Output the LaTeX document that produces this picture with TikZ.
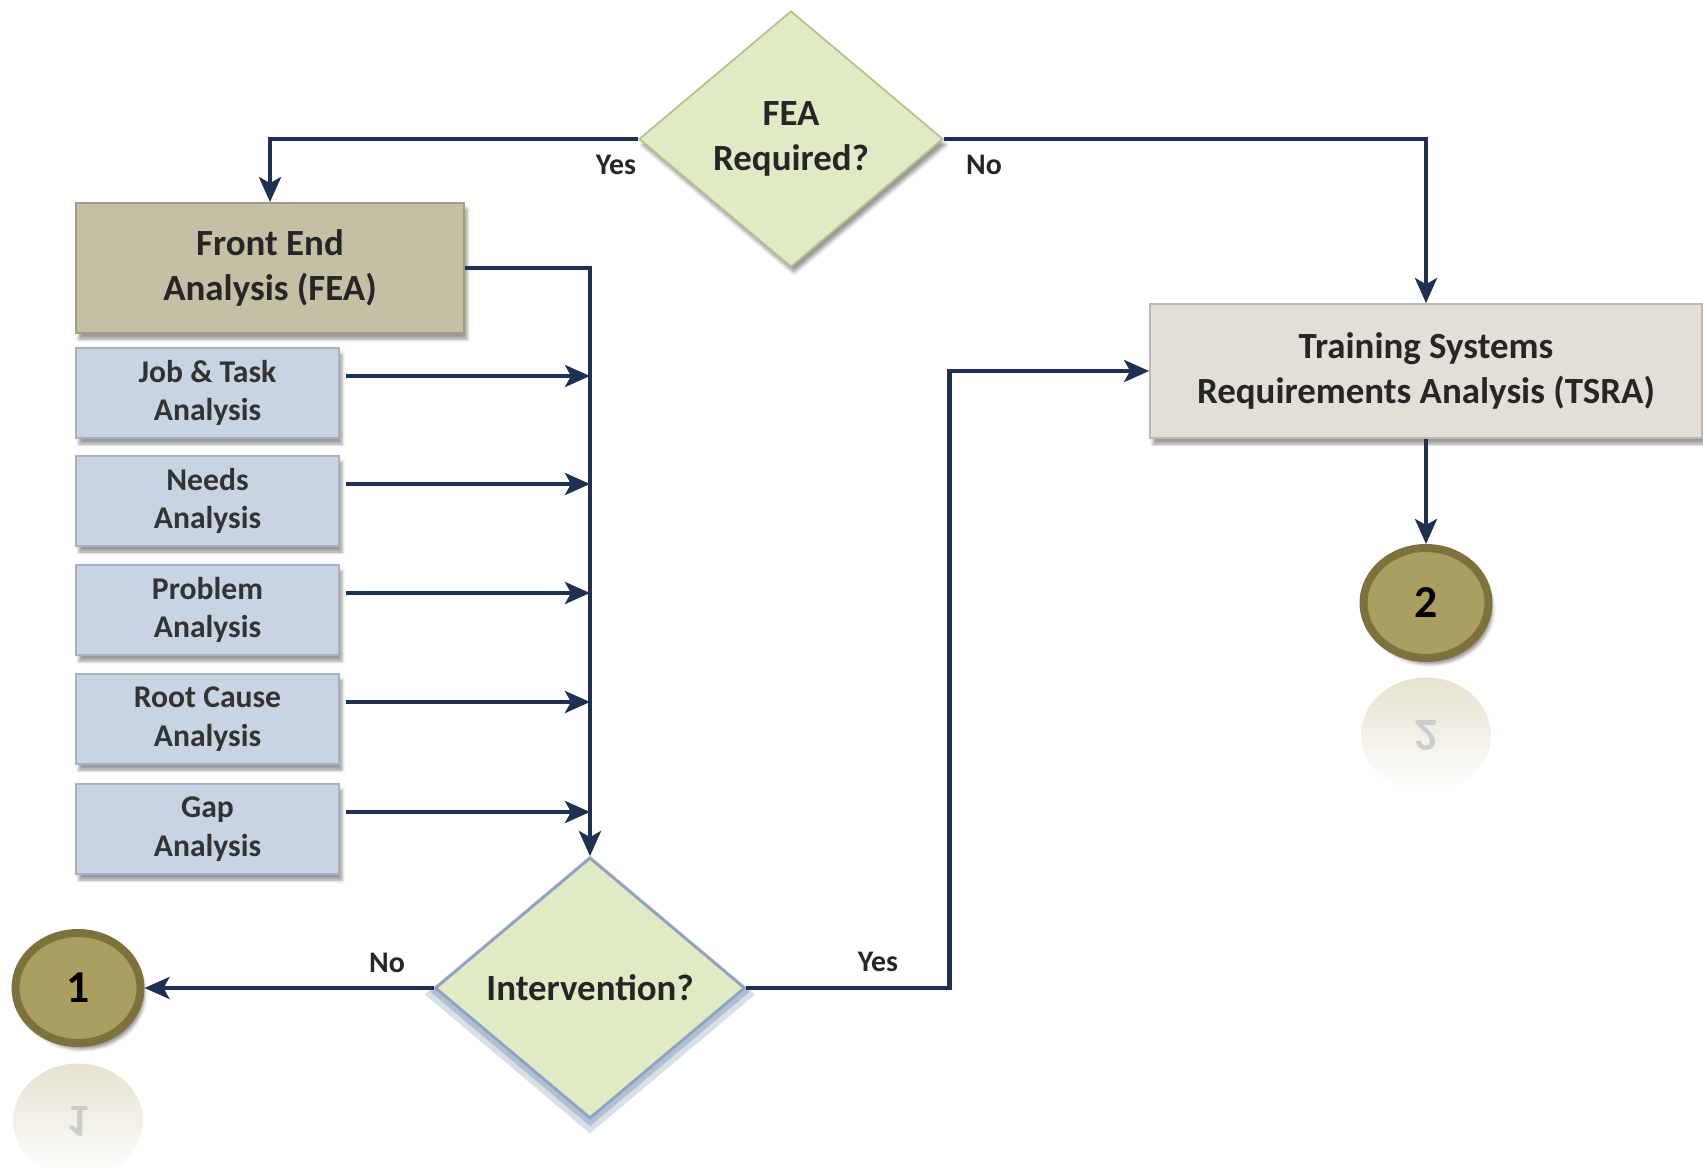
\documentclass[tikz,border=0pt]{standalone}
\usepackage{fontspec}
\setmainfont{Carlito}
\usetikzlibrary{shapes.geometric,arrows.meta,shadows,shadows.blur}

\definecolor{arrowblue}{HTML}{1E3152}
\definecolor{featan}{HTML}{C5BFA6}
\definecolor{featanedge}{HTML}{A39D84}
\definecolor{subblue}{HTML}{C8D4E2}
\definecolor{subblueedge}{HTML}{A3B1C3}
\definecolor{decgreen}{HTML}{E0EBC6}
\definecolor{decgreenedge}{HTML}{B4C28E}
\definecolor{glowblue}{HTML}{8FA3C0}
\definecolor{tsragray}{HTML}{E3DED7}
\definecolor{tsraedge}{HTML}{BEB8AF}
\definecolor{btnolive}{HTML}{AA9F61}
\definecolor{btnedge}{HTML}{7D723E}

\tikzset{
  arr/.style={draw=arrowblue, line width=2.4pt, -{Stealth[length=5mm,width=4.4mm,inset=1.2mm]}},
  mainbox/.style={rectangle, draw=featanedge, line width=1pt, fill=featan,
    minimum width=7.76cm, minimum height=2.6cm, align=center,
    font=\fontsize{21}{26}\selectfont\bfseries, text=black!85,
    blur shadow={shadow xshift=0.6mm, shadow yshift=-1.2mm, shadow opacity=40}},
  subbox/.style={rectangle, draw=subblueedge, line width=1pt, fill=subblue,
    minimum width=5.26cm, minimum height=1.8cm, align=center,
    font=\fontsize{18}{22}\selectfont\bfseries, text=black!80,
    blur shadow={shadow xshift=0.6mm, shadow yshift=-1.2mm, shadow opacity=40}},
  decision/.style={diamond, draw=decgreenedge, line width=1pt, fill=decgreen,
    inner sep=0pt, align=center, font=\fontsize{21}{26}\selectfont\bfseries,
    text=black!85},
  connector/.style={ellipse, draw=btnedge, line width=1.6mm, fill=btnolive,
    minimum width=2.5cm, minimum height=2.2cm, inner sep=0pt,
    font=\fontsize{26}{30}\selectfont\bfseries, text=black,
    blur shadow={shadow xshift=0.8mm, shadow yshift=-1.2mm, shadow opacity=45}},
  mirror/.style={ellipse, draw=none, top color=btnolive!30, bottom color=white,
    minimum width=2.6cm, minimum height=2.3cm, inner sep=0pt,
    font=\fontsize{26}{30}\selectfont\bfseries, text=black!20},
  lbl/.style={font=\fontsize{17}{20}\selectfont\bfseries, text=black!85}
}

\begin{document}
\begin{tikzpicture}
  \useasboundingbox (0,0) rectangle (34.06,-23.44);

  % decisions
  \node[decision, minimum width=6.08cm, minimum height=5.12cm,
    blur shadow={shadow xshift=0.6mm, shadow yshift=-1.2mm, shadow opacity=40}]
    (q1) at (15.82,-2.78) {FEA\\Required?};
  \node[decision, draw=glowblue, line width=1.6pt, minimum width=6.2cm, minimum height=5.22cm,
    general shadow={fill=glowblue!35, shadow scale=1.07, shadow yshift=-1.2mm},
    general shadow={fill=glowblue!70, shadow scale=1.035, shadow yshift=-0.7mm}]
    (q2) at (11.8,-19.76) {Intervention?};

  % boxes
  \node[mainbox] (fea) at (5.4,-5.36) {Front End\\Analysis (FEA)};
  \node[mainbox, fill=tsragray, draw=tsraedge, minimum width=11.04cm, minimum height=2.68cm]
    (tsra) at (28.52,-7.42) {Training Systems\\Requirements Analysis (TSRA)};

  \node[subbox] (job)   at (4.15,-7.86)  {Job \& Task\\Analysis};
  \node[subbox] (needs) at (4.15,-10.02) {Needs\\Analysis};
  \node[subbox] (prob)  at (4.15,-12.2)  {Problem\\Analysis};
  \node[subbox] (root)  at (4.15,-14.38) {Root Cause\\Analysis};
  \node[subbox] (gap)   at (4.15,-16.58) {Gap\\Analysis};

  % off-page connectors and their reflections
  \node[mirror] (r1) at (1.56,-22.42) {\scalebox{1}[-1]{1}};
  \node[mirror] (r2) at (28.52,-14.7) {\scalebox{1}[-1]{2}};
  \node[connector] (c1) at (1.56,-19.76) {1};
  \node[connector] (c2) at (28.52,-12.06) {2};

  % connectors
  \draw[arr] (q1.west) -| (fea.north);
  \draw[arr] (q1.east) -| (tsra.north);
  \draw[arr] (fea.east) -| (q2.north);
  \foreach \n in {job,needs,prob,root,gap}
    \draw[arr, shorten <=1.2mm] ([yshift=3.4mm]\n.east) -- ([yshift=3.4mm]\n.east -| q2.north);
  \draw[arr] (q2.west) -- (c1.east);
  \draw[arr] (q2.east) -- ++(4.06,0) |- (tsra.west);
  \draw[arr] (tsra.south) -- (c2.north);

  % labels
  \node[lbl] (yes1) at (12.32,-3.3) {Yes};
  \node[lbl] (no1)  at (19.68,-3.3) {No};
  \node[lbl] (no2)  at (7.74,-19.26) {No};
  \node[lbl] (yes2) at (17.56,-19.24) {Yes};
\end{tikzpicture}
\end{document}
